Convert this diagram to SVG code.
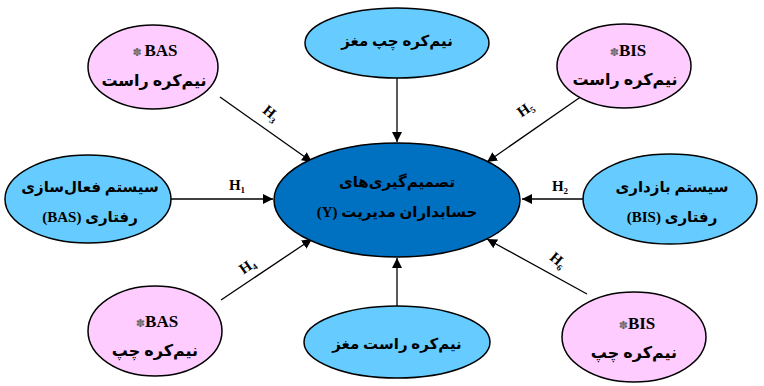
<svg xmlns="http://www.w3.org/2000/svg" width="764" height="386" viewBox="0 0 764 386">
<defs>
<marker id="ah" viewBox="0 0 10 10" refX="10" refY="5" markerWidth="10" markerHeight="10" markerUnits="userSpaceOnUse" orient="auto">
<path d="M0,0 L10,5 L0,10 z" fill="#000"/>
</marker>
<style>
.node ellipse{stroke:#000;stroke-width:1.5}
.pink{fill:#FFCCFF}
.blue{fill:#66CCFF}
.dark{fill:#0070C0}
text{font-family:"Liberation Serif","DejaVu Sans",serif;font-weight:bold;fill:#000;text-anchor:middle}
.fa{font-size:15px;direction:rtl;unicode-bidi:embed}
.fp{font-size:16px}
.la{font-size:17px}
.st{font-size:11px;fill:#666}
.lbl{font-size:15px}
.sub{font-size:9px}
.conn line{stroke:#000;stroke-width:1.3;marker-end:url(#ah)}
</style>
</defs>
<rect width="764" height="386" fill="#fff"/>
<g class="conn">
<line x1="171" y1="199" x2="273" y2="199"/>
<line x1="583" y1="199" x2="522" y2="199"/>
<line x1="397" y1="78" x2="397" y2="142"/>
<line x1="397" y1="307" x2="397" y2="258"/>
<line x1="220" y1="97" x2="312" y2="162"/>
<line x1="221" y1="300" x2="312" y2="239"/>
<line x1="582" y1="96" x2="487" y2="162"/>
<line x1="587" y1="294" x2="487" y2="239"/>
<text class="lbl" x="237" y="190">H<tspan class="sub" dy="3">1</tspan></text>
<text class="lbl" x="560" y="191">H<tspan class="sub" dy="3">2</tspan></text>
<text class="lbl" transform="translate(268,117) rotate(40)">H<tspan class="sub" dy="3">3</tspan></text>
<text class="lbl" transform="translate(250,270) rotate(-35)">H<tspan class="sub" dy="3">4</tspan></text>
<text class="lbl" transform="translate(528,113) rotate(-35)">H<tspan class="sub" dy="3">5</tspan></text>
<text class="lbl" transform="translate(555,264) rotate(40)">H<tspan class="sub" dy="3">6</tspan></text>
</g>
<g id="center" class="node">
<ellipse class="dark" cx="397" cy="200" rx="123" ry="57"/>
<text class="fa" x="397" y="187">تصمیم‌گیری‌های</text>
<text class="fa" x="397" y="217">حسابداران مدیریت (Y)</text>
</g>
<g id="top" class="node">
<ellipse class="blue" cx="397" cy="43" rx="92" ry="35"/>
<text class="fa" x="397" y="46">نیم‌کره چپ مغز</text>
</g>
<g id="bottom" class="node">
<ellipse class="blue" cx="397" cy="342" rx="93" ry="36"/>
<text class="fa" x="397" y="349">نیم‌کره راست مغز</text>
</g>
<g id="tl" class="node">
<ellipse class="pink" cx="153" cy="67" rx="65" ry="42"/>
<text class="la" x="155" y="56"><tspan class="st">✽ </tspan>BAS</text>
<text class="fa fp" x="154" y="86">نیم‌کره راست</text>
</g>
<g id="tr" class="node">
<ellipse class="pink" cx="624" cy="66" rx="67" ry="42"/>
<text class="la" x="628" y="56"><tspan class="st">✽</tspan>BIS</text>
<text class="fa fp" x="625" y="85">نیم‌کره راست</text>
</g>
<g id="left" class="node">
<ellipse class="blue" cx="88" cy="199" rx="83" ry="44"/>
<text class="fa" x="90" y="192">سیستم فعال‌سازی</text>
<text class="fa" x="90" y="222">رفتاری (BAS)</text>
</g>
<g id="right" class="node">
<ellipse class="blue" cx="670" cy="199" rx="87" ry="45"/>
<text class="fa" x="672" y="192">سیستم بازداری</text>
<text class="fa" x="672" y="222">رفتاری (BIS)</text>
</g>
<g id="bl" class="node">
<ellipse class="pink" cx="155" cy="331" rx="67" ry="45"/>
<text class="la" x="157" y="327"><tspan class="st">✽</tspan>BAS</text>
<text class="fa fp" x="155" y="356">نیم‌کره چپ</text>
</g>
<g id="br" class="node">
<ellipse class="pink" cx="634" cy="337" rx="72" ry="45"/>
<text class="la" x="637" y="329"><tspan class="st">✽</tspan>BIS</text>
<text class="fa fp" x="634" y="358">نیم‌کره چپ</text>
</g>
</svg>
